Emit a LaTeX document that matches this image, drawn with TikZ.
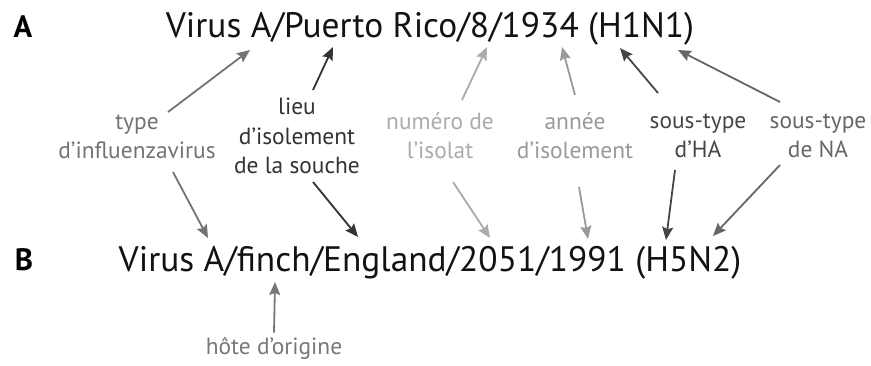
\documentclass[tikz,border=0pt]{standalone}
\usepackage{fontspec}
\setmainfont{PT Sans}
\usetikzlibrary{arrows.meta}
\definecolor{typegray}{gray}{0.45}
\definecolor{lieugray}{gray}{0.2}
\definecolor{numgray}{gray}{0.67}
\definecolor{anngray}{gray}{0.6}
\definecolor{hagray}{gray}{0.27}
\definecolor{nagray}{gray}{0.4}
\definecolor{hotegray}{gray}{0.47}

\begin{document}
\begin{tikzpicture}[x=1bp, y=-1bp,
    lbl/.style = {align=center, font=\fontsize{23.5}{29.5}\selectfont, inner sep=0pt},
    strain/.style = {anchor=base, font=\fontsize{35.5}{40}\selectfont, inner sep=0pt, text=black!93},
    panel/.style = {anchor=base, font=\fontsize{31}{36}\selectfont\bfseries, inner sep=0pt},
    arr/.style = {-{Stealth[length=13bp, width=11bp, inset=2bp]}, line width=1.8bp}]
    \useasboundingbox (0,0) rectangle (871,365);
    % the two strain names
    \node[panel] (pA) at (23,37) {A};
    \node[panel] (pB) at (24,270) {B};
    \node[strain] (sA) at (430,37) {Virus A/Puerto Rico/8/1934 (H1N1)};
    \node[strain] (sB) at (430,271) {Virus A/finch/England/2051/1991 (H5N2)};
    % labels
    \node[lbl, text=typegray] (type) at (137,137) {type\\d’influenzavirus};
    \node[lbl, text=lieugray] (lieu) at (297,136) {lieu\\d’isolement\\de la souche};
    \node[lbl, text=numgray] (num) at (440,136) {numéro de\\l’isolat};
    \node[lbl, text=anngray] (annee) at (575,136) {année\\d’isolement};
    \node[lbl, text=hagray] (ha) at (698,136) {sous-type\\d’HA};
    \node[lbl, text=nagray] (na) at (818,136) {sous-type\\de NA};
    \node[lbl, anchor=base, text=hotegray, inner sep=4bp] (hote) at (274,354) {hôte d’origine};
    % arrow ends on the names
    \coordinate (a1) at (250,50);
    \coordinate (a2) at (333,47);
    \coordinate (a3) at (487,47);
    \coordinate (a4) at (562,47);
    \coordinate (a5) at (620,48);
    \coordinate (a6) at (678,50);
    \coordinate (b1) at (208,238);
    \coordinate (b2) at (358,237);
    \coordinate (b3) at (490,238);
    \coordinate (b4) at (588,239);
    \coordinate (b5) at (666,240);
    \coordinate (b6) at (713,236);
    \coordinate (b7) at (275,282);
    % arrows
    \draw[arr, typegray] ([shift={(31,-25)}]type.center) -- (a1);
    \draw[arr, typegray] ([shift={(36,35)}]type.center) -- (b1);
    \draw[arr, lieugray] ([shift={(16,-46)}]lieu.center) -- (a2);
    \draw[arr, lieugray] ([shift={(16,46)}]lieu.center) -- (b2);
    \draw[arr, numgray] ([shift={(22,-36)}]num.center) -- (a3);
    \draw[arr, numgray] ([shift={(13,46)}]num.center) -- (b3);
    \draw[arr, anngray] ([shift={(0,-41)}]annee.center) -- (a4);
    \draw[arr, anngray] ([shift={(4,51)}]annee.center) -- (b4);
    \draw[arr, hagray] ([shift={(-40,-43)}]ha.center) -- (a5);
    \draw[arr, hagray] ([shift={(-23,34)}]ha.center) -- (b5);
    \draw[arr, nagray] ([shift={(-38,-34)}]na.center) -- (a6);
    \draw[arr, nagray] ([shift={(-38,29)}]na.center) -- (b6);
    \draw[arr, hotegray] (hote.north) -- (b7);
\end{tikzpicture}
\end{document}
